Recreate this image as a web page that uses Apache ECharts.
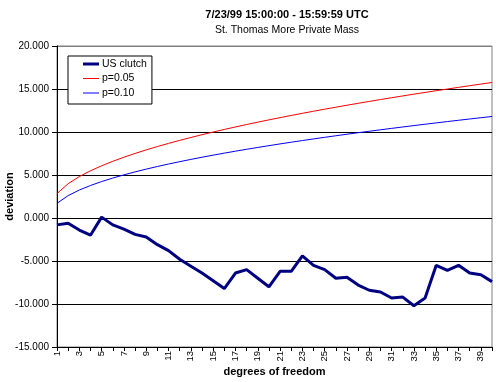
<!DOCTYPE html>
<html>
<head>
<meta charset="utf-8">
<script src="https://cdn.jsdelivr.net/npm/echarts@6/dist/echarts.min.js"></script>
<style>html,body{margin:0;padding:0;background:#fff}#c{width:496px;height:382px}</style>
</head>
<body>
<div id="c"></div>
<script>
var categories = [];
for (var i = 1; i <= 40; i++) categories.push(String(i));

var usClutch = [-0.8, -0.6, -1.4, -2.0, 0.1, -0.8, -1.3, -1.9, -2.2, -3.1,
  -3.8, -4.8, -5.6, -6.4, -7.3, -8.2, -6.4, -6.0, -7.0, -8.0,
  -6.2, -6.2, -4.4, -5.5, -6.0, -7.0, -6.9, -7.8, -8.4, -8.6,
  -9.3, -9.2, -10.2, -9.3, -5.5, -6.1, -5.5, -6.4, -6.6, -7.4];

var p005 = [2.841, 3.991, 4.815, 5.488, 6.070, 6.592, 7.067, 7.507, 7.919, 8.307,
  8.675, 9.026, 9.362, 9.685, 9.996, 10.296, 10.587, 10.869, 11.144, 11.410,
  11.671, 11.924, 12.172, 12.415, 12.652, 12.885, 13.113, 13.337, 13.557, 13.773,
  13.985, 14.194, 14.400, 14.602, 14.802, 14.998, 15.192, 15.384, 15.572, 15.758];

var p010 = [1.706, 2.605, 3.251, 3.779, 4.236, 4.645, 5.017, 5.362, 5.684, 5.987,
  6.275, 6.549, 6.812, 7.064, 7.307, 7.542, 7.769, 7.989, 8.204, 8.412,
  8.615, 8.813, 9.007, 9.196, 9.382, 9.563, 9.741, 9.916, 10.087, 10.256,
  10.422, 10.585, 10.745, 10.903, 11.059, 11.212, 11.363, 11.513, 11.660, 11.805];

var seriesNames = ['US clutch', 'p=0.05', 'p=0.10'];

var font = 'Liberation Sans, Arial, sans-serif';
var thick = 'path://M0,0M16,14M0,5.5H16V8.5H0Z';
var thin = 'path://M0,0M16,14M0,6.5H16V7.5H0Z';
var chart = echarts.init(document.getElementById('c'));
chart.setOption({
  animation: false,
  backgroundColor: '#fff',
  title: [{
    text: '7/23/99 15:00:00 - 15:59:59 UTC',
    left: 282, top: 4, textAlign: 'center',
    textStyle: {fontFamily: font, fontSize: 11, fontWeight: 'bold', color: '#000'}
  }, {
    text: 'St. Thomas More Private Mass',
    left: 282, top: 20, textAlign: 'center',
    textStyle: {fontFamily: font, fontSize: 10.5, fontWeight: 'normal', color: '#000'}
  }],
  legend: {
    orient: 'vertical', left: 68, top: 56,
    backgroundColor: '#fff', borderColor: '#000', borderWidth: 1, borderRadius: 0,
    padding: [1, 5, 4, 15],
    itemWidth: 16, itemHeight: 14, itemGap: 0.5,
    textStyle: {fontFamily: font, fontSize: 10.5, color: '#000', padding: [0, 0, 0, -2]},
    data: [
      {name: seriesNames[0], icon: thick},
      {name: seriesNames[1], icon: thin},
      {name: seriesNames[2], icon: thin}
    ]
  },
  grid: {left: 57, right: 4, top: 46, bottom: 35, outerBoundsMode: 'none', containLabel: false,
    show: true, borderColor: '#808080', borderWidth: 1, backgroundColor: '#fff'},
  xAxis: {
    type: 'category', data: categories, boundaryGap: false,
    name: 'degrees of freedom', nameLocation: 'middle', nameGap: 19, nameMoveOverlap: false,
    nameTextStyle: {fontFamily: font, fontSize: 11, fontWeight: 'bold', color: '#000'},
    axisLine: {onZero: false, lineStyle: {color: '#000', width: 1}},
    axisTick: {interval: 0, length: 4, lineStyle: {color: '#000'}},
    axisLabel: {interval: 1, rotate: 90, fontFamily: font, fontSize: 9.5, color: '#000', margin: 4},
    splitLine: {show: false}
  },
  yAxis: {
    type: 'value', min: -15, max: 20, interval: 5,
    name: 'deviation', nameLocation: 'middle', nameGap: 42, nameMoveOverlap: false,
    nameTextStyle: {fontFamily: font, fontSize: 11, fontWeight: 'bold', color: '#000'},
    axisLine: {show: true, lineStyle: {color: '#000', width: 1}},
    axisTick: {show: true, length: 5, lineStyle: {color: '#000'}},
    axisLabel: {fontFamily: font, fontSize: 10, color: '#000', margin: 8,
      formatter: function (v) { return v.toFixed(3); }},
    splitLine: {show: true, lineStyle: {color: ['#000', '#000', '#000', '#000', '#000', '#000', '#000', '#808080'], width: 1}}
  },
  series: [{
    name: seriesNames[0], type: 'line', data: usClutch, showSymbol: false, symbol: 'none',
    lineStyle: {color: '#000080', width: 3}, itemStyle: {color: '#000080'}, z: 5
  }, {
    name: seriesNames[1], type: 'line', data: p005, showSymbol: false, symbol: 'none',
    lineStyle: {color: '#ff0000', width: 1}, itemStyle: {color: '#ff0000'}
  }, {
    name: seriesNames[2], type: 'line', data: p010, showSymbol: false, symbol: 'none',
    lineStyle: {color: '#0000ff', width: 1}, itemStyle: {color: '#0000ff'}
  }]
});
</script>
</body>
</html>
